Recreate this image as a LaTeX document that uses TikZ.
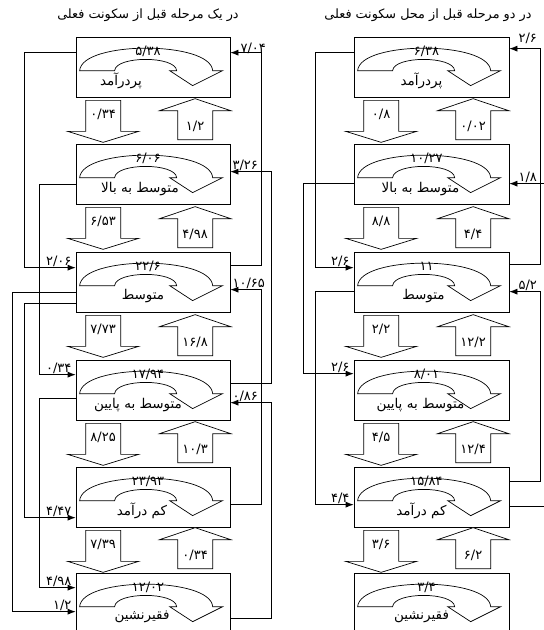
\documentclass[tikz,border=0pt]{standalone}
\usepackage{fontspec}
\TeXXeTstate=1
\newfontfamily\farsi[Script=Arabic]{DejaVu Sans}
\usetikzlibrary{arrows.meta}
\tikzset{
  box/.style={draw, line width=0.7pt, minimum width=154pt, minimum height=60pt, inner sep=0pt},
  flow/.style={line width=0.7pt, -{Latex[length=8pt,width=6pt]}},
  blk/.style={draw, line width=0.7pt, fill=white},
  num/.style={font=\farsi\fontsize{13}{14}\selectfont, inner sep=1pt},
  tag/.style={font=\farsi\fontsize{13.5}{15}\selectfont, inner sep=1pt},
  headline/.style={font=\farsi\fontsize{12.8}{15}\selectfont, inner sep=1pt},
  pics/uturn/.style={code={%
      \draw[line width=0.7pt] (4,34) .. controls (6,4) and (135,4) .. (137,34)
        -- (147,34) -- (117,49) -- (94,34) -- (101,34)
        .. controls (100,19) and (40,19) .. (39,34) -- cycle;
  }},
  pics/dnarrow/.style={code={%
      \draw[blk] (10,3) -- (45,3) -- (45,34) -- (63,34) -- (27.5,45) -- (-8,34) -- (10,34) -- cycle;
      \node[num] at (27.5,17) {#1};
  }},
  pics/uparrow/.style={code={%
      \draw[blk] (102,-4) -- (137,-4) -- (137,-33) -- (155,-33) -- (119.5,-45) -- (84,-33) -- (102,-33) -- cycle;
      \node[num] at (119.5,-17) {#1};
  }},
}
\begin{document}
\begin{tikzpicture}[x=1pt, y=-1pt]
    \useasboundingbox (0,0) rectangle (544,630);
    % titles
    \node[headline] (Lt) at (148,15) {\beginR در یک مرحله قبل از سکونت فعلی\endR};
    \node[headline] (Rt) at (428,15) {\beginR در دو مرحله قبل از محل سکونت فعلی\endR};
    % left column of classes
    \node[box] (L1) at (153,67) {};
    \node[box] (L2) at (153,174) {};
    \node[box] (L3) at (153,282) {};
    \node[box] (L4) at (153,390) {};
    \node[box] (L5) at (153,497) {};
    \node[box] (L6) at (153,603) {};
    % right column of classes
    \node[box, minimum width=155pt] (R1) at (431.5,67) {};
    \node[box, minimum width=155pt] (R2) at (431.5,174) {};
    \node[box, minimum width=155pt] (R3) at (431.5,282) {};
    \node[box, minimum width=155pt] (R4) at (431.5,390) {};
    \node[box, minimum width=155pt] (R5) at (431.5,497) {};
    \node[box, minimum width=155pt] (R6) at (431.5,603) {};
    % staying arrows
    \pic at (L1.north west) {uturn};
    \pic at (L2.north west) {uturn};
    \pic at (L3.north west) {uturn};
    \pic at (L4.north west) {uturn};
    \pic at (L5.north west) {uturn};
    \pic at (L6.north west) {uturn};
    \pic at (R1.north west) {uturn};
    \pic at (R2.north west) {uturn};
    \pic at (R3.north west) {uturn};
    \pic at (R4.north west) {uturn};
    \pic at (R5.north west) {uturn};
    \pic at (R6.north west) {uturn};
    % values and class names
    \node[num] (L1v) at ([xshift=-5pt,yshift=-15pt]L1.north) {۵/۳۸};
    \node[num] (L2v) at ([xshift=-5pt,yshift=-15pt]L2.north) {۶/۰۶};
    \node[num] (L3v) at ([xshift=-5pt,yshift=-15pt]L3.north) {۲۲/۶};
    \node[num] (L4v) at ([xshift=-5pt,yshift=-15pt]L4.north) {۱۷/۹۴};
    \node[num] (L5v) at ([xshift=-5pt,yshift=-15pt]L5.north) {۲۳/۹۳};
    \node[num] (L6v) at ([xshift=-5pt,yshift=-15pt]L6.north) {۱۲/۰۲};
    \node[num] (R1v) at ([xshift=-5pt,yshift=-15pt]R1.north) {۶/۳۸};
    \node[num] (R2v) at ([xshift=-5pt,yshift=-15pt]R2.north) {۱۰/۲۷};
    \node[num] (R3v) at ([xshift=-5pt,yshift=-15pt]R3.north) {۱۱};
    \node[num] (R4v) at ([xshift=-5pt,yshift=-15pt]R4.north) {۸/۰۱};
    \node[num] (R5v) at ([xshift=-5pt,yshift=-15pt]R5.north) {۱۵/۸۴};
    \node[num] (R6v) at ([xshift=-5pt,yshift=-15pt]R6.north) {۳/۴};
    \node[tag] (L1n) at ([xshift=-32pt,yshift=-14pt]L1.center) {\beginR پردرآمد\endR};
    \node[tag] (L2n) at ([xshift=-13pt,yshift=-15pt]L2.center) {\beginR متوسط به بالا\endR};
    \node[tag] (L3n) at ([xshift=-10pt,yshift=-14pt]L3.center) {\beginR متوسط\endR};
    \node[tag] (L4n) at ([xshift=-15pt,yshift=-15pt]L4.center) {\beginR متوسط به پایین\endR};
    \node[tag] (L5n) at ([xshift=-11pt,yshift=-14pt]L5.center) {\beginR کم درآمد\endR};
    \node[tag] (L6n) at ([xshift=-11pt,yshift=-14pt]L6.center) {\beginR فقیرنشین\endR};
    \node[tag] (R1n) at ([xshift=-10pt,yshift=-14pt]R1.center) {\beginR پردرآمد\endR};
    \node[tag] (R2n) at ([xshift=-11pt,yshift=-15pt]R2.center) {\beginR متوسط به بالا\endR};
    \node[tag] (R3n) at ([xshift=-8pt,yshift=-14pt]R3.center) {\beginR متوسط\endR};
    \node[tag] (R4n) at ([xshift=-11pt,yshift=-15pt]R4.center) {\beginR متوسط به پایین\endR};
    \node[tag] (R5n) at ([xshift=-10pt,yshift=-14pt]R5.center) {\beginR کم درآمد\endR};
    \node[tag] (R6n) at ([xshift=-10pt,yshift=-14pt]R6.center) {\beginR فقیرنشین\endR};
    % moves between neighbouring classes
    \pic at (L1.south west) {dnarrow={۰/۳۴}};
    \pic at (L2.south west) {dnarrow={۶/۵۳}};
    \pic at (L3.south west) {dnarrow={۷/۷۳}};
    \pic at (L4.south west) {dnarrow={۸/۲۵}};
    \pic at (L5.south west) {dnarrow={۷/۳۹}};
    \pic at (L2.north west) {uparrow={۱/۲}};
    \pic at (L3.north west) {uparrow={۴/۹۸}};
    \pic at (L4.north west) {uparrow={۱۶/۸}};
    \pic at (L5.north west) {uparrow={۱۰/۳}};
    \pic at (L6.north west) {uparrow={۰/۳۴}};
    \pic at (R1.south west) {dnarrow={۰/۸}};
    \pic at (R2.south west) {dnarrow={۸/۸}};
    \pic at (R3.south west) {dnarrow={۲/۲}};
    \pic at (R4.south west) {dnarrow={۴/۵}};
    \pic at (R5.south west) {dnarrow={۳/۶}};
    \pic at (R2.north west) {uparrow={۰/۰۲}};
    \pic at (R3.north west) {uparrow={۴/۴}};
    \pic at (R4.north west) {uparrow={۱۲/۲}};
    \pic at (R5.north west) {uparrow={۱۲/۴}};
    \pic at (R6.north west) {uparrow={۶/۲}};
    % long moves, left column
    \draw[flow] ([yshift=-16pt]L1.north west) -- ++(-51,0) |- ([yshift=-16pt]L3.north west);
    \draw[flow] ([yshift=-41pt]L2.north west) -- ++(-36,0) |- ([yshift=-15pt]L4.north west);
    \draw[flow] ([yshift=-41pt]L3.north west) -- ++(-63,0) |- ([yshift=-39pt]L6.north west);
    \draw[flow] ([yshift=-52pt]L3.north west) -- ++(-51,0) |- ([yshift=-51pt]L5.north west);
    \draw[flow] ([yshift=-39pt]L4.north west) -- ++(-36,0) |- ([yshift=-15pt]L6.north west);
    \draw[flow] ([yshift=-14pt]L3.north east) -- ++(31,0) |- ([yshift=-16pt]L1.north east);
    \draw[flow] ([yshift=-24pt]L4.north east) -- ++(41,0) |- ([yshift=-28pt]L2.north east);
    \draw[flow] ([yshift=-38pt]L5.north east) -- ++(31,0) |- ([yshift=-38pt]L3.north east);
    \draw[flow] ([yshift=-46pt]L6.north east) -- ++(41,0) |- ([yshift=-43pt]L4.north east);
    \node[num, above left] at ([xshift=-3pt,yshift=-16pt]L3.north west) {۲/۰۶};
    \node[num, above left] at ([xshift=-3pt,yshift=-15pt]L4.north west) {۰/۳۴};
    \node[num, above left] at ([xshift=-3pt,yshift=-51pt]L5.north west) {۴/۴۷};
    \node[num, above left] at ([xshift=-3pt,yshift=-15pt]L6.north west) {۴/۹۸};
    \node[num, above left] at ([xshift=-3pt,yshift=-39pt]L6.north west) {۱/۲};
    \node[num, above right] at ([xshift=9pt,yshift=-18pt]L1.north east) {۷/۰۴};
    \node[num, above right] at ([xshift=1pt,yshift=-28pt]L2.north east) {۳/۲۶};
    \node[num, above right] at ([xshift=1pt,yshift=-38pt]L3.north east) {۱۰/۶۵};
    \node[num, above right] at ([xshift=1pt,yshift=-43pt]L4.north east) {۰/۸۶};
    % long moves, right column
    \draw[flow] ([yshift=-16pt]R1.north west) -- ++(-38,0) |- ([yshift=-16pt]R3.north west);
    \draw[flow] ([yshift=-40pt]R2.north west) -- ++(-50,0) |- ([yshift=-14pt]R4.north west);
    \draw[flow] ([yshift=-40pt]R3.north west) -- ++(-38,0) |- ([yshift=-38pt]R5.north west);
    \draw[flow] ([yshift=-13pt]R3.north east) -- ++(31,0) |- ([yshift=-12pt]R1.north east);
    \draw[flow] ([yshift=-15pt]R5.north east) -- ++(31,0) |- ([yshift=-40pt]R3.north east);
    \draw[flow] ([yshift=-40pt]R5.north east) -- ++(38,0) |- ([yshift=-40pt]R2.north east);
    \node[num, above left] at ([xshift=-3pt,yshift=-16pt]R3.north west) {۲/۶};
    \node[num, above left] at ([xshift=-3pt,yshift=-14pt]R4.north west) {۲/۶};
    \node[num, above left] at ([xshift=-3pt,yshift=-38pt]R5.north west) {۴/۴};
    \node[num, above right] at ([xshift=8pt,yshift=-8pt]R1.north east) {۲/۶};
    \node[num, above right] at ([xshift=8pt,yshift=-40pt]R2.north east) {۱/۸};
    \node[num, above right] at ([xshift=8pt,yshift=-40pt]R3.north east) {۵/۲};
\end{tikzpicture}
\end{document}
